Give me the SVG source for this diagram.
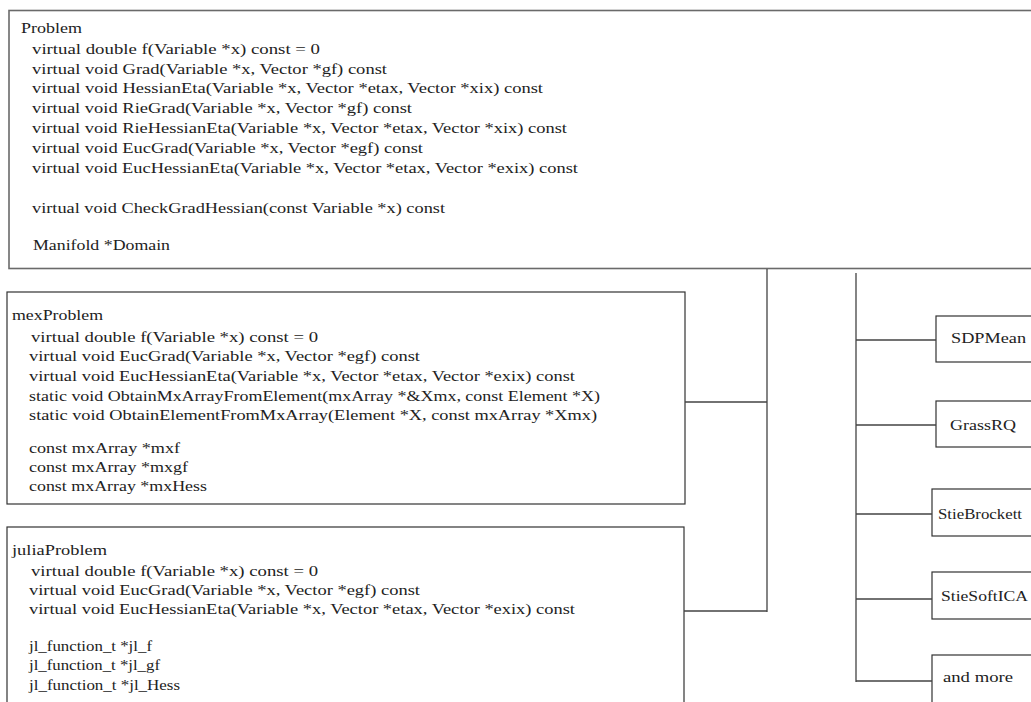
<svg xmlns="http://www.w3.org/2000/svg" width="1031" height="702" viewBox="0 0 1031 702">
<style>
.bg{fill:#fff}
.box{fill:#fff;stroke:#333;stroke-width:1.2}
.pbox{fill:#fff;stroke:#6a6a6a;stroke-width:1.6}
.t{font-family:"Liberation Serif","Times New Roman",serif;font-size:15px;fill:#222}
.c{fill:none;stroke:#444;stroke-width:1.3}
</style>
<rect class="bg" x="0" y="0" width="1031" height="702"/>
<g id="problem">
<rect class="pbox" x="9" y="10.5" width="1035" height="258"/>
<text class="t" x="21" y="33" textLength="61" lengthAdjust="spacingAndGlyphs">Problem</text>
<text class="t" x="32" y="54" textLength="288" lengthAdjust="spacingAndGlyphs">virtual double f(Variable *x) const = 0</text>
<text class="t" x="32" y="74" textLength="355" lengthAdjust="spacingAndGlyphs">virtual void Grad(Variable *x, Vector *gf) const</text>
<text class="t" x="32" y="93" textLength="511" lengthAdjust="spacingAndGlyphs">virtual void HessianEta(Variable *x, Vector *etax, Vector *xix) const</text>
<text class="t" x="32" y="113" textLength="380" lengthAdjust="spacingAndGlyphs">virtual void RieGrad(Variable *x, Vector *gf) const</text>
<text class="t" x="32" y="133" textLength="535" lengthAdjust="spacingAndGlyphs">virtual void RieHessianEta(Variable *x, Vector *etax, Vector *xix) const</text>
<text class="t" x="32" y="153" textLength="391" lengthAdjust="spacingAndGlyphs">virtual void EucGrad(Variable *x, Vector *egf) const</text>
<text class="t" x="32" y="173" textLength="546" lengthAdjust="spacingAndGlyphs">virtual void EucHessianEta(Variable *x, Vector *etax, Vector *exix) const</text>
<text class="t" x="32" y="213" textLength="413" lengthAdjust="spacingAndGlyphs">virtual void CheckGradHessian(const Variable *x) const</text>
<text class="t" x="33" y="250" textLength="137" lengthAdjust="spacingAndGlyphs">Manifold *Domain</text>
</g>
<g id="mexProblem">
<rect class="box" x="7" y="292" width="678" height="212"/>
<text class="t" x="12" y="320" textLength="91" lengthAdjust="spacingAndGlyphs">mexProblem</text>
<text class="t" x="31" y="342" textLength="287" lengthAdjust="spacingAndGlyphs">virtual double f(Variable *x) const = 0</text>
<text class="t" x="29" y="361" textLength="391" lengthAdjust="spacingAndGlyphs">virtual void EucGrad(Variable *x, Vector *egf) const</text>
<text class="t" x="29" y="381" textLength="546" lengthAdjust="spacingAndGlyphs">virtual void EucHessianEta(Variable *x, Vector *etax, Vector *exix) const</text>
<text class="t" x="29" y="401" textLength="571" lengthAdjust="spacingAndGlyphs">static void ObtainMxArrayFromElement(mxArray *&amp;Xmx, const Element *X)</text>
<text class="t" x="29" y="420" textLength="568" lengthAdjust="spacingAndGlyphs">static void ObtainElementFromMxArray(Element *X, const mxArray *Xmx)</text>
<text class="t" x="29" y="453" textLength="151" lengthAdjust="spacingAndGlyphs">const mxArray *mxf</text>
<text class="t" x="29" y="472" textLength="159" lengthAdjust="spacingAndGlyphs">const mxArray *mxgf</text>
<text class="t" x="29" y="491" textLength="178" lengthAdjust="spacingAndGlyphs">const mxArray *mxHess</text>
</g>
<g id="juliaProblem">
<rect class="box" x="7" y="527" width="677" height="190"/>
<text class="t" x="12" y="555" textLength="95" lengthAdjust="spacingAndGlyphs">juliaProblem</text>
<text class="t" x="31" y="576" textLength="287" lengthAdjust="spacingAndGlyphs">virtual double f(Variable *x) const = 0</text>
<text class="t" x="29" y="595" textLength="391" lengthAdjust="spacingAndGlyphs">virtual void EucGrad(Variable *x, Vector *egf) const</text>
<text class="t" x="29" y="614" textLength="546" lengthAdjust="spacingAndGlyphs">virtual void EucHessianEta(Variable *x, Vector *etax, Vector *exix) const</text>
<text class="t" x="29" y="651" textLength="123" lengthAdjust="spacingAndGlyphs">jl_function_t *jl_f</text>
<text class="t" x="29" y="670" textLength="131" lengthAdjust="spacingAndGlyphs">jl_function_t *jl_gf</text>
<text class="t" x="29" y="690" textLength="151" lengthAdjust="spacingAndGlyphs">jl_function_t *jl_Hess</text>
</g>
<g id="SDPMean">
<rect class="box" x="936" y="316" width="110" height="46"/>
<text class="t" x="951" y="343" textLength="75" lengthAdjust="spacingAndGlyphs">SDPMean</text>
</g>
<g id="GrassRQ">
<rect class="box" x="936" y="401" width="110" height="46"/>
<text class="t" x="950" y="430" textLength="66" lengthAdjust="spacingAndGlyphs">GrassRQ</text>
</g>
<g id="StieBrockett">
<rect class="box" x="932" y="489" width="114" height="47"/>
<text class="t" x="938" y="519" textLength="84" lengthAdjust="spacingAndGlyphs">StieBrockett</text>
</g>
<g id="StieSoftICA">
<rect class="box" x="932" y="572" width="114" height="47"/>
<text class="t" x="941" y="601" textLength="87" lengthAdjust="spacingAndGlyphs">StieSoftICA</text>
</g>
<g id="andMore">
<rect class="box" x="932" y="655" width="114" height="60"/>
<text class="t" x="943" y="682" textLength="70" lengthAdjust="spacingAndGlyphs">and more</text>
</g>
<g id="connectors">
<path class="c" d="M767,269 V612 M685,402 H767 M684,611 H767"/>
<path class="c" d="M856,273 V682 M856,340 H936 M856,425 H936 M856,514 H932 M856,599 H932 M856,681 H932"/>
</g>
</svg>
